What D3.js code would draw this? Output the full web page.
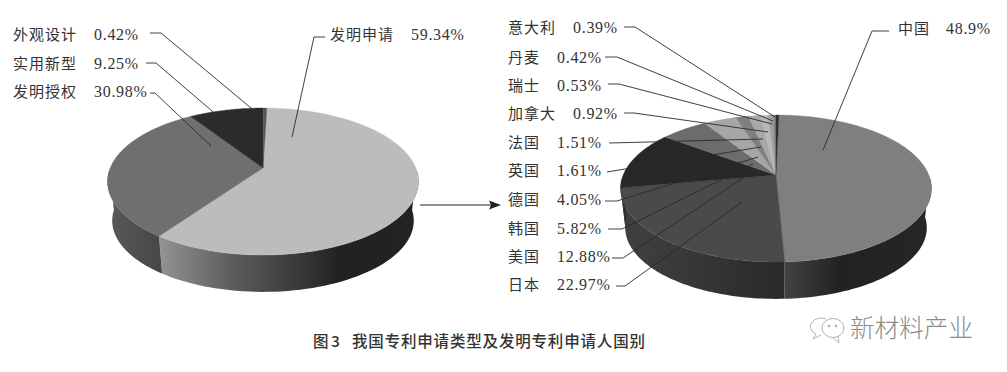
<!DOCTYPE html>
<html><head><meta charset="utf-8">
<script src="https://cdn.jsdelivr.net/npm/d3@7/dist/d3.min.js"></script>
<style>
html,body{margin:0;padding:0;background:#fff;}
svg{display:block;}
.nm{font-family:"Noto Sans CJK SC",sans-serif;font-size:15px;letter-spacing:1px;fill:#333;}
.vl{font-family:"Liberation Serif",serif;font-size:16px;letter-spacing:0.7px;fill:#333;}
</style></head><body>
<svg id="c" width="1007" height="372"></svg>
<script>
// ---- data ----
const typeNames = ["发明申请","外观设计","实用新型","发明授权"];
const typeValues = [59.34,0.42,9.25,30.98];
const typeOrder = ["发明申请","发明授权","实用新型","外观设计"];
const countryNames = ["中国","日本","美国","韩国","德国","英国","法国","加拿大","瑞士","丹麦","意大利"];
const countryValues = [48.9,22.97,12.88,5.82,4.05,1.61,1.51,0.92,0.53,0.42,0.39];

// ---- styling ----
const typeTop = {"发明申请":"#bcbcbc","发明授权":"#6f6f6f","实用新型":"#2b2b2b","外观设计":"#555555"};
const countryTop = {"中国":"#7f7f7f","日本":"#4a4a4a","美国":"#282828","韩国":"#6c6c6c","德国":"#a6a6a6","英国":"#808080","法国":"#a8a8a8","加拿大":"#b8b8b8","瑞士":"#a0a0a0","丹麦":"#8a8a8a","意大利":"#303030"};
const typeWall = {
  "发明申请":{x:[160,195,230,300,340,420],c:["#939393","#787878","#5e5e5e","#383838","#212121","#232323"]},
  "发明授权":{x:[107,160],c:["#5a5a5a","#474747"]}
};
const countryWall = {
  "中国":{x:[784,810,840,932],c:["#444444","#333333","#222222","#262626"]},
  "日本":{x:[622,690,784],c:["#404040","#383838","#292929"]},
  "美国":{x:[620,640],c:["#303030","#303030"]}
};
const geo = {k:0.184,A:152.8,B:71,depth:39.5,shrink:0.97};
const typeLayout = [
  {n:"外观设计",v:"0.42%",x:13,vx:94,y:34,pts:[[150,33],[161,33],[263,118]]},
  {n:"实用新型",v:"9.25%",x:13,vx:94,y:63,pts:[[146,63],[156,63],[240,135]]},
  {n:"发明授权",v:"30.98%",x:13,vx:94,y:91,pts:[[150,93],[155,93],[211,146]]},
  {n:"发明申请",v:"59.34%",x:330,vx:411,y:34,pts:[[325,37],[314,37],[292,137]]}
];
const countryLayout = [
  {n:"意大利",v:"0.39%",x:508,vx:573,y:27,pts:[[624,27],[635,27],[775,117]]},
  {n:"丹麦",v:"0.42%",x:508,vx:557,y:57,pts:[[605,57],[617,57],[773,121]]},
  {n:"瑞士",v:"0.53%",x:508,vx:557,y:85,pts:[[608,84],[619,84],[772,124]]},
  {n:"加拿大",v:"0.92%",x:508,vx:573,y:113,pts:[[624,113],[634,113],[768,132]]},
  {n:"法国",v:"1.51%",x:508,vx:557,y:142,pts:[[609,143],[650,142],[763,139]]},
  {n:"英国",v:"1.61%",x:508,vx:557,y:170,pts:[[607,172],[625,169],[761,147]]},
  {n:"德国",v:"4.05%",x:508,vx:557,y:199,pts:[[605,201],[617,201],[758,157]]},
  {n:"韩国",v:"5.82%",x:508,vx:557,y:228,pts:[[608,229],[622,229],[753,164]]},
  {n:"美国",v:"12.88%",x:508,vx:557,y:256,pts:[[612,258],[623,258],[744,177]]},
  {n:"日本",v:"22.97%",x:508,vx:557,y:284,pts:[[616,286],[625,286],[742,202]]},
  {n:"中国",v:"48.9%",x:898,vx:946,y:28,pts:[[889,31],[872,31],[823,150]]}
];

const svg = d3.select("#c");
const defs = svg.append("defs");
const line = d3.line();
const deg = Math.PI/180;

function project(cx,cy,s,r,t){
  const X=r*Math.sin(t), Y=r*Math.cos(t), w=1+geo.k*Y;
  return [cx+s*geo.A*X/w, cy-s*geo.B*Y/w];
}
function drawPie(id,names,values,cx,cy,rot,top,wall){
  const arcs = d3.pie().sort(null).startAngle(rot*deg).endAngle(rot*deg+2*Math.PI)
    .value((d,i)=>values[i])(names);
  const g = svg.append("g");
  const botCy = cy+geo.depth;
  // side wall, front half only
  const f0=92*deg, f1=268*deg;
  arcs.forEach((a,i)=>{
    const w = wall[a.data]; if(!w) return;
    const t0=Math.max(a.startAngle,f0), t1=Math.min(a.endAngle,f1);
    if(t1<=t0) return;
    const ts=d3.range(61).map(j=>t0+(t1-t0)*j/60);
    const pts=ts.map(t=>project(cx,cy,1,1,t)).concat(ts.slice().reverse().map(t=>project(cx,botCy,geo.shrink,1,t)));
    const gid=id+"w"+i, x0=w.x[0], x1=w.x[w.x.length-1];
    const sc=d3.scaleLinear().domain([x0,x1]).range([0,100]);
    const lg=defs.append("linearGradient").attr("id",gid).attr("gradientUnits","userSpaceOnUse")
      .attr("x1",x0).attr("x2",x1).attr("y1",0).attr("y2",0);
    w.x.forEach((x,j)=>lg.append("stop").attr("offset",sc(x)+"%").attr("stop-color",w.c[j]));
    g.append("path").attr("d",line(pts)+"Z").attr("fill",`url(#${gid})`);
  });
  // top face
  arcs.forEach(a=>{
    const n=Math.max(4,Math.ceil((a.endAngle-a.startAngle)/(1*deg)));
    const pts=[[cx,cy]].concat(d3.range(n+1).map(j=>project(cx,cy,1,1,a.startAngle+(a.endAngle-a.startAngle)*j/n)));
    g.append("path").attr("d",line(pts)+"Z").attr("fill",top[a.data]).attr("stroke",top[a.data]).attr("stroke-width",0.4);
  });
}
function drawLabels(layout){
  layout.forEach(l=>{
    svg.append("path").attr("d",line(l.pts)).attr("fill","none").attr("stroke","#2a2a2a").attr("stroke-width",0.9);
    svg.append("text").attr("class","nm").attr("x",l.x).attr("y",l.y+5.5).text(l.n);
    svg.append("text").attr("class","vl").attr("x",l.vx).attr("y",l.y+5.5).text(l.v);
  });
}
drawPie("a",typeOrder,typeOrder.map(n=>typeValues[typeNames.indexOf(n)]),263,168,1.7,typeTop,typeWall);
drawPie("b",countryNames,countryValues,776,175,1.3,countryTop,countryWall);
drawLabels(typeLayout);
drawLabels(countryLayout);

// arrow between the pies
svg.append("line").attr("x1",420).attr("x2",492).attr("y1",205).attr("y2",205).attr("stroke","#222").attr("stroke-width",1);
svg.append("path").attr("d",line([[489,200.5],[501,205],[489,209.5],[491,205]])+"Z").attr("fill","#222");

// caption
const capFont='"Noto Sans CJK SC",sans-serif';
const cap=(x,t,len)=>{const e=svg.append("text").attr("x",x).attr("y",346.5).attr("font-family",capFont).attr("font-size",15.5).attr("font-weight",500).attr("fill","#333").text(t); if(len) e.attr("textLength",len).attr("lengthAdjust","spacing");};
cap(313,"图");
cap(331,"3");
cap(352,"我国专利申请类型及发明专利申请人国别",293);

// watermark
const wm=svg.append("g").attr("fill","none").attr("stroke","#aaa").attr("stroke-width",0.9);
wm.append("path").attr("d","M826 319A10 8 0 1 0 816 334L813 339L821 335");
wm.append("ellipse").attr("cx",833).attr("cy",328).attr("rx",11).attr("ry",9.5).attr("fill","#fff");
wm.append("path").attr("d","M833 337.5L839 343L838 336");
wm.append("circle").attr("cx",829).attr("cy",326).attr("r",0.9).attr("fill","#999");
wm.append("circle").attr("cx",836).attr("cy",326).attr("r",0.9).attr("fill","#999");
svg.append("text").attr("x",850).attr("y",337).attr("font-family",capFont).attr("font-size",24.6).attr("font-weight",300).attr("fill","#8a8a8a").text("新材料产业");
</script>
</body></html>
